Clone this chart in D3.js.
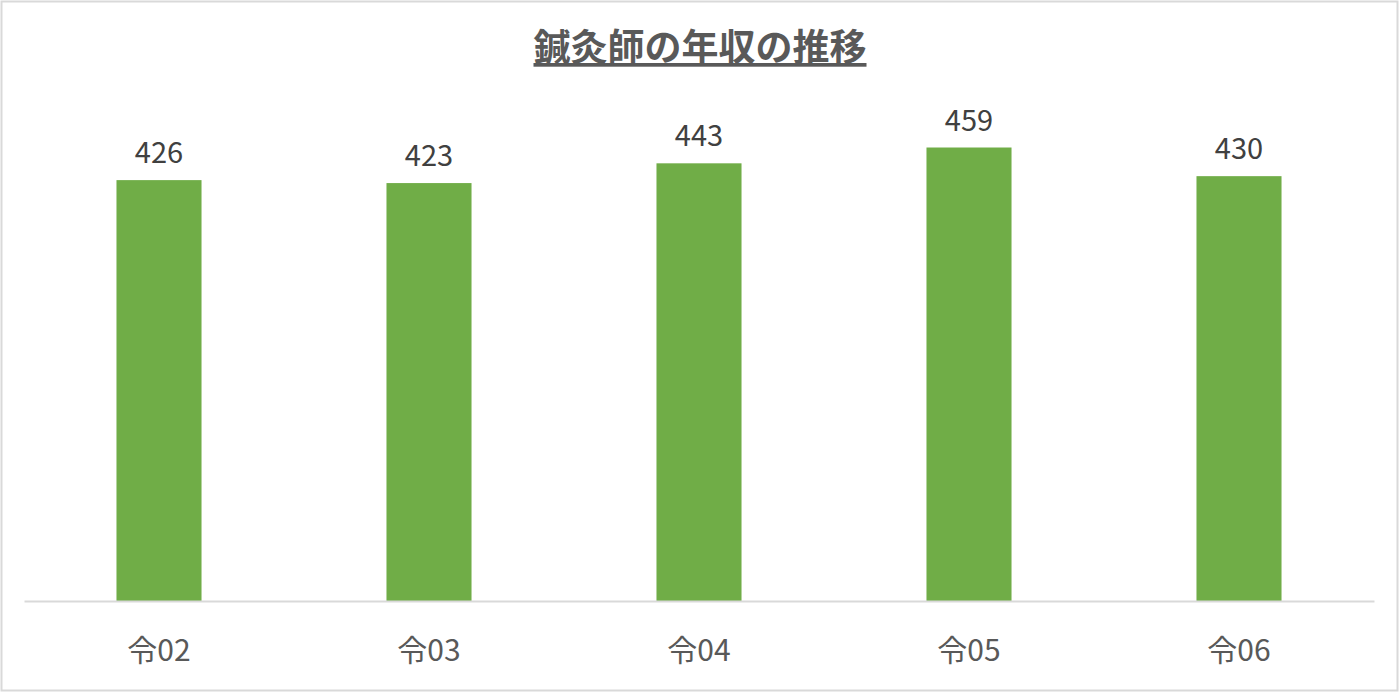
<!DOCTYPE html>
<html lang="ja">
<head>
<meta charset="utf-8"/>
<title>鍼灸師の年収の推移</title>
<script src="https://d3js.org/d3.v7.min.js"></script>
<style>
	body { margin: 0; background: #fff; }
	text { font-family: "Noto Sans CJK JP", "Noto Sans", sans-serif; }
</style>
</head>
<body>
<script>
// chart data
var categories = ["令02", "令03", "令04", "令05", "令06"];
var values = [426, 423, 443, 459, 430];
var yMax = 500;

var w = 1400;
var h = 693;
var plot = {left: 24, right: 1374, top: 107, bottom: 601};

var svg = d3.select("body")
			.append("svg")
			.attr("width", w)
			.attr("height", h);

// outer frame
svg.append("rect")
	.attr("x", 1.5)
	.attr("y", 1.5)
	.attr("width", 1396)
	.attr("height", 689)
	.attr("fill", "#fff")
	.attr("stroke", "#d9d9d9")
	.attr("stroke-width", 2);

var xScale = d3.scaleBand()
			.domain(categories)
			.range([plot.left, plot.right])
			.paddingInner(0.685)
			.paddingOuter(0.3425);

var yScale = d3.scaleLinear()
			.domain([0, yMax])
			.range([plot.bottom, plot.top]);

// bars
svg.selectAll("rect.bar")
	.data(values)
	.enter()
	.append("rect")
	.attr("class", "bar")
	.attr("x", function(d, i) {return xScale(categories[i]);})
	.attr("y", function(d) {return yScale(d);})
	.attr("width", xScale.bandwidth())
	.attr("height", function(d) {return plot.bottom - yScale(d);})
	.attr("fill", "#70ad47");

// value labels
svg.selectAll("text.val")
	.data(values)
	.enter()
	.append("text")
	.attr("class", "val")
	.attr("x", function(d, i) {return xScale(categories[i]) + xScale.bandwidth() / 2;})
	.attr("y", function(d) {return yScale(d) - 17;})
	.attr("text-anchor", "middle")
	.attr("font-size", "29px")
	.attr("fill", "#404040")
	.text(function(d) {return d;});

// baseline axis
var xAxis = d3.axisBottom(xScale).tickSize(0).tickPadding(39);
var gx = svg.append("g")
	.attr("transform", "translate(0," + plot.bottom + ")")
	.call(xAxis);
gx.select(".domain").attr("stroke", "#d9d9d9").attr("stroke-width", 2);
gx.selectAll("text")
	.attr("font-size", "30px")
	.attr("fill", "#595959")
	.style("font-family", "'Noto Sans CJK JP', sans-serif");

// title
svg.append("text")
	.attr("x", w / 2)
	.attr("y", 61)
	.attr("text-anchor", "middle")
	.attr("font-size", "37px")
	.attr("font-weight", "bold")
	.attr("fill", "#595959")
	.attr("text-decoration", "underline")
	.text("鍼灸師の年収の推移");
</script>
</body>
</html>
